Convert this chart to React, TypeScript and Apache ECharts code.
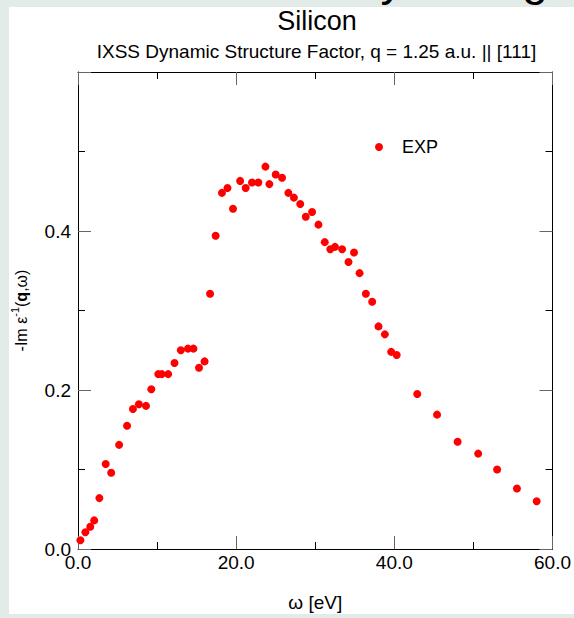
import React, { useEffect, useRef } from "react";
import * as echarts from "echarts";

const omega = [
  0.3, 0.93, 1.55, 2.05, 2.7, 3.5, 4.2, 5.2, 6.2, 6.95, 7.7, 8.6, 9.27, 10.15,
  10.6, 11.4, 12.2, 13.0, 13.9, 14.6, 15.3, 16.0, 16.7, 17.4, 18.2, 18.9, 19.6,
  20.5, 21.2, 22.0, 22.8, 23.7, 24.2, 25.0, 25.8, 26.6, 27.3, 28.1, 28.8, 29.6,
  30.4, 31.2, 31.9, 32.5, 33.4, 34.2, 34.9, 35.6, 36.4, 37.2, 38.0, 38.8, 39.6,
  40.3, 42.9, 45.4, 48.0, 50.6, 53.0, 55.5, 58.0,
];
const lossValues = [
  0.011, 0.021, 0.028, 0.036, 0.064, 0.107, 0.096, 0.131, 0.155, 0.176, 0.182,
  0.18, 0.201, 0.22, 0.22, 0.22, 0.234, 0.25, 0.252, 0.252, 0.228, 0.236, 0.321,
  0.394, 0.448, 0.454, 0.428, 0.463, 0.454, 0.461, 0.461, 0.481, 0.459, 0.471,
  0.467, 0.448, 0.442, 0.434, 0.418, 0.424, 0.408, 0.386, 0.377, 0.38, 0.377,
  0.361, 0.373, 0.347, 0.321, 0.311, 0.28, 0.27, 0.248, 0.244, 0.195, 0.169,
  0.135, 0.12, 0.1, 0.076, 0.06,
];
const xTicks = [0, 20, 40, 60];
const yTicks = [0, 0.2, 0.4];

const FONT = "Liberation Sans";
const BG = "#e3ebe8";

export default function App() {
  const ref = useRef<HTMLDivElement>(null);
  useEffect(() => {
    if (!ref.current) return;
    const chart = echarts.init(ref.current, null, { renderer: "svg" });
    const data = omega.map((x, i) => [x, lossValues[i]]);
    const xLabel = (v: number) => (xTicks.includes(v) ? v.toFixed(1) : "");
    const yLabel = (v: number) =>
      yTicks.some((t) => Math.abs(t - v) < 1e-9) ? v.toFixed(1) : "";
    const tickCommon = {
      axisLine: { show: true, onZero: false, lineStyle: { color: "#000", width: 1 } },
      axisTick: { show: true, inside: true, length: 13, lineStyle: { color: "#666", width: 1 } },
      minorTick: { show: true, splitNumber: 2, length: 7, lineStyle: { color: "#000", width: 1 } },
      splitLine: { show: false },
      minorSplitLine: { show: false },
    };
    chart.setOption({
      animation: false,
      backgroundColor: "#fff",
      textStyle: { fontFamily: FONT },
      grid: { left: 78, right: 19, top: 72, bottom: 69, containLabel: false },
      graphic: [
        { type: "rect", shape: { x: 0, y: 0, width: 9, height: 618 }, style: { fill: BG }, silent: true },
        { type: "rect", shape: { x: 0, y: 0, width: 574, height: 7 }, style: { fill: BG }, silent: true },
        { type: "rect", shape: { x: 0, y: 614, width: 574, height: 4 }, style: { fill: BG }, silent: true },
        { type: "text", x: 392, y: 2, style: { text: "y", fontSize: 46, fontFamily: FONT, fill: "#000", align: "center", verticalAlign: "bottom" } },
        { type: "text", x: 535, y: 2, style: { text: "g", fontSize: 46, fontFamily: FONT, fill: "#000", align: "center", verticalAlign: "bottom" } },
        { type: "text", x: 317, y: 34, style: { text: "Silicon", fontSize: 27, fontFamily: FONT, fill: "#000", align: "center", verticalAlign: "bottom" } },
        { type: "text", x: 316.5, y: 61, style: { text: "IXSS Dynamic Structure Factor, q = 1.25 a.u. || [111]", fontSize: 19, fontFamily: FONT, fill: "#000", align: "center", verticalAlign: "bottom" } },
      ],
      legend: {
        data: ["EXP"],
        left: 370,
        top: 133,
        icon: "circle",
        itemWidth: 8,
        itemHeight: 8,
        textStyle: { fontSize: 18, fontFamily: FONT, color: "#000", padding: [0, 0, 0, 14] },
      },
      xAxis: [
        {
          type: "value",
          position: "bottom",
          min: 0,
          max: 60,
          interval: 20,
          name: "ω [eV]",
          nameLocation: "middle",
          nameGap: 44,
          nameTextStyle: { fontSize: 19, fontFamily: FONT, color: "#000" },
          axisLabel: { show: true, fontSize: 19, fontFamily: FONT, color: "#000", margin: 4, formatter: xLabel },
          ...tickCommon,
        },
        {
          type: "value",
          position: "top",
          min: 0,
          max: 60,
          interval: 20,
          axisLabel: { show: false },
          ...tickCommon,
        },
      ],
      yAxis: [
        {
          type: "value",
          position: "left",
          min: 0,
          max: 0.6,
          interval: 0.2,
          name: "-Im ε{sup|-1}({b|q},ω)",
          nameLocation: "middle",
          nameRotate: 90,
          nameGap: 39,
          nameTextStyle: {
            fontSize: 16,
            fontFamily: FONT,
            color: "#000",
            lineHeight: 24,
            rich: {
              sup: { fontSize: 11, fontFamily: FONT, color: "#000", verticalAlign: "top", lineHeight: 12 },
              b: { fontSize: 16, fontFamily: FONT, fontWeight: "bold", color: "#000", lineHeight: 24 },
            },
          },
          axisLabel: { show: true, fontSize: 19, fontFamily: FONT, color: "#000", margin: 7, formatter: yLabel },
          ...tickCommon,
        },
        {
          type: "value",
          position: "right",
          min: 0,
          max: 0.6,
          interval: 0.2,
          axisLabel: { show: false },
          ...tickCommon,
        },
      ],
      series: [
        {
          name: "EXP",
          type: "scatter",
          xAxisIndex: 0,
          yAxisIndex: 0,
          symbol: "circle",
          symbolSize: 8,
          itemStyle: { color: "#ff0000", opacity: 1 },
          data,
        },
      ],
    });
    return () => chart.dispose();
  }, []);
  return (
    <div
      ref={ref}
      style={{ position: "absolute", left: 0, top: 0, width: 574, height: 618 }}
    />
  );
}
